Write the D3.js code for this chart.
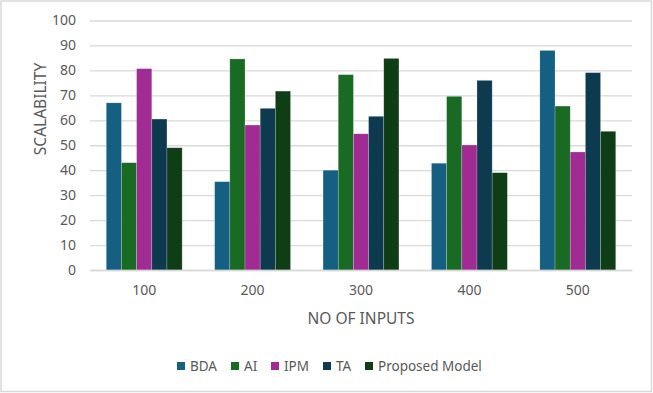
<!DOCTYPE html>
<html>
<head>
<meta charset="utf-8">
<script src="https://cdn.jsdelivr.net/npm/d3@7"></script>
<style>
  body { margin: 0; background: #fff; }
  text { font-family: 'Noto Sans', 'Liberation Sans', sans-serif; fill: #595959; }
</style>
</head>
<body>
<div id="chart"></div>
<script>
// data
const INPUTS = ['100', '200', '300', '400', '500'];
const SERIES = ['BDA', 'AI', 'IPM', 'TA', 'Proposed Model'];
const BDA = [67, 35.4, 40, 42.8, 88];
const AI = [43, 84.6, 78.3, 69.6, 65.7];
const IPM = [80.7, 58.1, 54.6, 50.1, 47.3];
const TA = [60.5, 64.8, 61.6, 76, 79.1];
const PROPOSED = [49, 71.7, 84.8, 39, 55.6];
const Y_TICKS = [0, 10, 20, 30, 40, 50, 60, 70, 80, 90, 100];
const COLORS = ['#156082', '#196b24', '#a02b93', '#0e3a50', '#0f3d16'];

// constants
const FRAME_WIDTH = 653;
const FRAME_HEIGHT = 393;
const MARGINS = {left: 90, right: 21, top: 20.5, bottom: 123};
const VIS_WIDTH = FRAME_WIDTH - MARGINS.left - MARGINS.right;
const VIS_HEIGHT = FRAME_HEIGHT - MARGINS.top - MARGINS.bottom;

const values = [BDA, AI, IPM, TA, PROPOSED];

let SVG = d3.select('#chart')
            .append('svg')
            .attr('width', FRAME_WIDTH)
            .attr('height', FRAME_HEIGHT);

// outer border
SVG.append('rect')
    .attr('x', 1).attr('y', 1)
    .attr('width', FRAME_WIDTH - 2.5).attr('height', FRAME_HEIGHT - 2.5)
    .attr('fill', '#fff')
    .attr('stroke', '#d9d9d9')
    .attr('stroke-width', 1.5);

let xScale = d3.scaleBand()
                .domain(INPUTS)
                .range([0, VIS_WIDTH])
                .paddingInner(0.3)
                .paddingOuter(0.15);

let subScale = d3.scaleBand()
                .domain(SERIES)
                .range([0, xScale.bandwidth()]);

let yScale = d3.scaleLinear()
                .domain([0, 100])
                .range([VIS_HEIGHT, 0]);

let plot = SVG.append('g')
            .attr('transform', 'translate(' + MARGINS.left + ',' + MARGINS.top + ')');

// gridlines + y labels
let yAxis = plot.append('g')
    .call(d3.axisLeft(yScale).tickValues(Y_TICKS).tickSize(-VIS_WIDTH).tickPadding(14));
yAxis.select('.domain').remove();
yAxis.selectAll('line').attr('stroke', '#d9d9d9').attr('stroke-width', 1.3);
yAxis.selectAll('text').attr('font-size', '14px').style('fill', '#595959')
    .attr('font-family', "'Noto Sans', sans-serif");

// bars
SERIES.forEach(function (s, i) {
    plot.selectAll('.bar-' + i)
        .data(INPUTS)
        .enter()
        .append('rect')
        .attr('x', (d) => xScale(d) + subScale(s))
        .attr('y', (d, j) => yScale(values[i][j]))
        .attr('width', subScale.bandwidth())
        .attr('height', (d, j) => VIS_HEIGHT - yScale(values[i][j]))
        .attr('fill', COLORS[i])
        .attr('stroke', 'rgba(255,255,255,0.35)')
        .attr('stroke-width', 0.6);
});

// x axis labels
let xAxis = plot.append('g')
    .attr('transform', 'translate(0,' + VIS_HEIGHT + ')')
    .call(d3.axisBottom(xScale).tickSize(0).tickPadding(15));
xAxis.select('.domain').attr('stroke', '#d9d9d9').attr('stroke-width', 1.3);
xAxis.selectAll('text').attr('font-size', '14px').style('fill', '#595959')
    .attr('font-family', "'Noto Sans', sans-serif");

// axis titles
SVG.append('text')
    .attr('x', 361).attr('y', 318)
    .attr('text-anchor', 'middle')
    .attr('dominant-baseline', 'central')
    .attr('font-size', '15.5px')
    .text('NO OF INPUTS');

SVG.append('text')
    .attr('transform', 'translate(40,109) rotate(-90)')
    .attr('text-anchor', 'middle')
    .attr('dominant-baseline', 'central')
    .attr('font-size', '15.5px')
    .text('SCALABILITY');

// legend
const LEGEND_X = [177, 231, 271, 323, 365];
let legend = SVG.append('g');
SERIES.forEach(function (s, i) {
    legend.append('rect')
        .attr('x', LEGEND_X[i]).attr('y', 362)
        .attr('width', 8).attr('height', 8)
        .attr('fill', COLORS[i]);
    legend.append('text')
        .attr('x', LEGEND_X[i] + 13).attr('y', 366)
        .attr('dominant-baseline', 'central')
        .attr('font-size', '13.5px')
        .text(s);
});
</script>
</body>
</html>
